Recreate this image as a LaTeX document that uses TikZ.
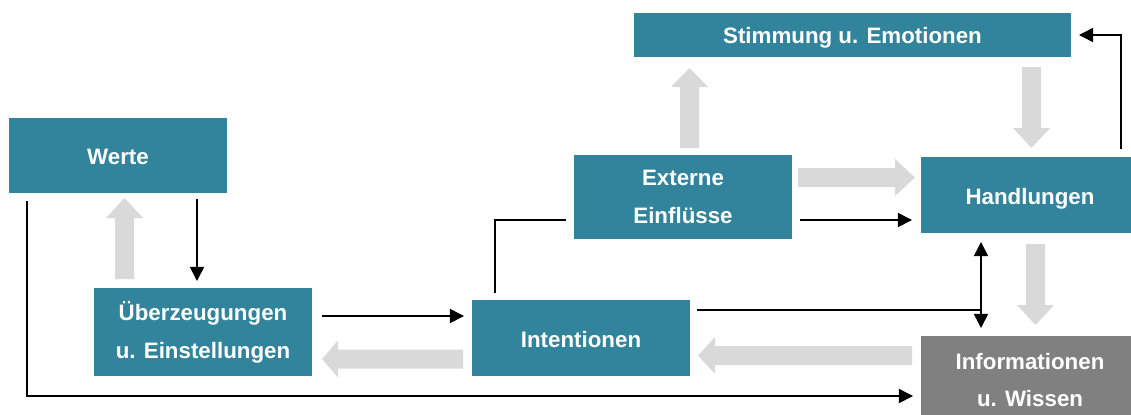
\documentclass[tikz,border=0pt]{standalone}
\usepackage{fontspec}
\setmainfont{Liberation Sans}
\usetikzlibrary{arrows.meta}
\definecolor{teal}{HTML}{31849B}
\definecolor{infogray}{HTML}{808080}
\definecolor{fatgray}{HTML}{D9D9D9}
\tikzset{
  box/.style={fill=teal, text=white, inner sep=0pt, align=center,
    font=\fontsize{12.7}{21.5}\selectfont\bfseries, anchor=center},
  oneline/.style={box, text height=10.8pt, text depth=0pt},
  graybox/.style={box, fill=infogray},
  conn/.style={line width=0.9pt, -{Triangle[length=8pt,width=8pt]}},
  plain/.style={line width=0.9pt},
  dbl/.style={line width=0.9pt, {Triangle[length=8pt,width=8pt]}-{Triangle[length=8pt,width=8pt]}},
  fat/.style={fill=fatgray}
}
\newcommand\fatV[4]{\fill[fat] (#1-9.5,#2) -- (#1-9.5,#3) -- (#1-18.5,#3) -- (#1,#4) -- (#1+18.5,#3) -- (#1+9.5,#3) -- (#1+9.5,#2) -- cycle;}
\newcommand\fatH[4]{\fill[fat] (#2,#1-9.5) -- (#3,#1-9.5) -- (#3,#1-18.5) -- (#4,#1) -- (#3,#1+18.5) -- (#3,#1+9.5) -- (#2,#1+9.5) -- cycle;}
\begin{document}
\begin{tikzpicture}[x=0.02cm, y=-0.02cm]
\useasboundingbox (0,0) rectangle (1131,414);
\fill[white] (0,0) rectangle (1131,414);

% boxes
\node[oneline, minimum width=4.36cm, minimum height=1.5cm] (werte) at (118,155.5) {Werte};
\node[box, minimum width=4.36cm, minimum height=1.76cm] (ueber) at (203,332) {Überzeugungen\\u. Einstellungen};
\node[oneline, minimum width=4.36cm, minimum height=1.52cm] (int) at (581,338) {Intentionen};
\node[box, minimum width=4.36cm, minimum height=1.68cm] (ext) at (683,197) {Externe\\Einflüsse};
\node[oneline, text height=10pt, minimum width=8.74cm, minimum height=0.88cm] (stim) at (852.5,35) {Stimmung u. Emotionen};
\node[oneline, minimum width=4.36cm, minimum height=1.52cm] (hand) at (1030,195) {Handlungen};
\node[graybox, minimum width=4.36cm, minimum height=1.76cm] (info) at (1030,380) {Informationen\\u. Wissen};

% fat gray arrows
\fatV{124.5}{279}{218}{198}
\fatV{689.5}{148}{87}{68}
\fatV{1031.5}{67}{128}{148}
\fatV{1035.5}{244}{305}{325}
\fatH{177.5}{798}{895}{915}
\fatH{355.5}{912}{715}{698}
\fatH{359}{463}{338}{322}

% connector points
\coordinate (wS) at (197,199);
\coordinate (uT) at (197,281);
\coordinate (uE) at (322,316);
\coordinate (iW) at (464,316);
\coordinate (wL) at (27,201);
\coordinate (infW) at (913,396);
\coordinate (iN) at (495,293);
\coordinate (eW) at (566,220);
\coordinate (eE) at (800,220);
\coordinate (hW) at (912,220);
\coordinate (iE) at (697,310);
\coordinate (jn) at (981,310);
\coordinate (hS) at (981,242);
\coordinate (infN) at (981,328);
\coordinate (hN) at (1121,149);
\coordinate (sE) at (1079,35);

% black connectors
\draw[conn] (wS) -- (uT);
\draw[conn] (uE) -- (iW);
\draw[conn] (wL) |- (infW);
\draw[plain] (iN) |- (eW);
\draw[conn] (eE) -- (hW);
\draw[plain] (iE) -- (jn);
\draw[dbl] (hS) -- (infN);
\draw[conn] (hN) |- (sE);
\end{tikzpicture}
\end{document}
